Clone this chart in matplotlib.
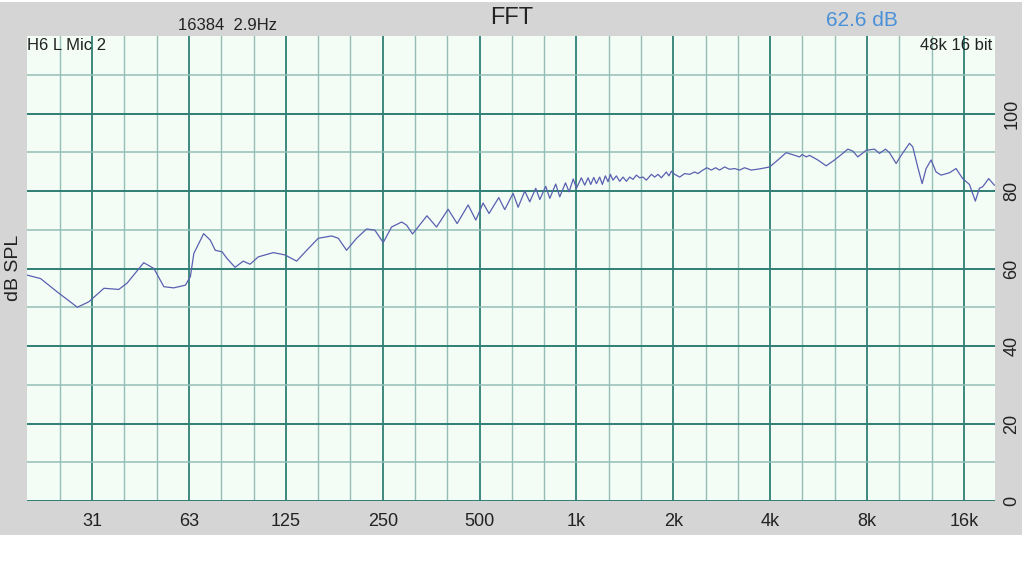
import numpy as np
import matplotlib.pyplot as plt
from matplotlib.patches import Rectangle

# FFT response (Hz, dB SPL)
freq_hz = [
    19.6, 21.6, 24.3, 28.1, 30.5, 34.0, 37.8, 40.1, 45.2, 48.6,
    52.2, 56.0, 60.9, 63.1, 64.7, 69.4, 72.8, 75.4, 79.2, 82.0,
    86.9, 92.1, 96.7, 102.6, 114.2, 124.2, 135.0, 145.1, 157.6, 173.4,
    181.9, 193.0, 207.3, 222.8, 236.3, 250.9, 266.3, 286.3, 296.5, 309.5,
    343.0, 367.5, 399.2, 425.8, 460.7, 486.7, 512.6, 535.0, 573.6, 598.6,
    635.5, 658.9, 691.1, 716.0, 747.4, 769.4, 802.8, 826.4, 862.1, 887.5,
    924.7, 948.7, 977.4, 1000, 1036, 1061, 1087, 1108, 1132, 1154,
    1181, 1204, 1230, 1254, 1275, 1299, 1331, 1363, 1396, 1430,
    1464, 1499, 1536, 1573, 1610, 1650, 1710, 1751, 1793, 1837,
    1903, 1939, 1973, 2020, 2094, 2170, 2249, 2330, 2386, 2473,
    2544, 2626, 2708, 2786, 2888, 2993, 3101, 3215, 3331, 3494,
    3709, 3984, 4228, 4489, 4764, 4937, 5033, 5180, 5303, 5628,
    5975, 6342, 6727, 6974, 7230, 7490, 7956, 8442, 8749, 9132,
    9396, 9856, 10216, 10843, 11101, 11504, 11873, 12217, 12661, 13120,
    13600, 14430, 15136, 15867, 16655, 17377, 17887, 18314, 19118, 19914,
]
level_db = [
    58.3, 57.4, 54.0, 50.0, 51.4, 54.9, 54.6, 56.2, 61.5, 60.0,
    55.3, 55.0, 55.7, 57.9, 63.9, 69.0, 67.3, 64.7, 64.3, 62.6,
    60.3, 61.9, 61.1, 63.0, 64.1, 63.5, 61.9, 64.7, 67.8, 68.4,
    67.8, 64.7, 67.8, 70.2, 69.9, 66.7, 70.7, 72.0, 71.2, 68.9,
    73.6, 70.7, 75.3, 71.6, 76.4, 72.5, 76.9, 74.2, 78.3, 75.2,
    79.4, 75.8, 80.0, 77.2, 80.7, 77.8, 81.2, 78.1, 81.8, 78.5,
    82.1, 79.8, 83.1, 80.7, 83.4, 81.5, 83.4, 81.7, 83.5, 81.9,
    83.6, 81.7, 83.9, 82.4, 84.3, 82.8, 83.9, 82.5, 83.6, 82.5,
    83.6, 83.0, 84.1, 83.4, 83.6, 82.8, 84.3, 83.6, 84.3, 83.4,
    84.9, 83.9, 85.1, 84.3, 83.6, 84.5, 84.3, 84.9, 84.5, 85.4,
    86.0, 85.4, 86.0, 85.4, 86.2, 85.6, 85.8, 85.4, 86.0, 85.4,
    85.7, 86.2, 88.0, 89.9, 89.2, 88.8, 89.4, 88.8, 89.2, 88.0,
    86.5, 88.0, 89.7, 90.8, 90.3, 88.8, 90.5, 90.8, 89.7, 90.8,
    89.9, 87.1, 89.2, 92.3, 91.4, 86.2, 81.9, 85.8, 88.0, 84.9,
    84.1, 84.7, 85.8, 83.2, 81.7, 77.4, 80.7, 81.1, 83.2, 81.5,
]

tick_hz = [31.25, 62.5, 125, 250, 500, 1000, 2000, 4000, 8000, 16000]
tick_labels = ["31", "63", "125", "250", "500", "1k", "2k", "4k", "8k", "16k"]
ytick_db = [0, 20, 40, 60, 80, 100]

font = "Liberation Sans"
dark = "#2f7f74"
light = "#93bfb7"
txt = "#222222"

fig = plt.figure(figsize=(10.24, 5.76), dpi=100, facecolor="white")
fig.patches.append(Rectangle((0, 41 / 576), 1022 / 1024, 533 / 576,
                             transform=fig.transFigure, facecolor="#d5d5d5",
                             edgecolor="none", zorder=-10))

ax = fig.add_axes([27 / 1024, 75 / 576, 968 / 1024, 465 / 576])
ax.set_facecolor("#f3fdf6")
ax.set_xscale("log")
ax.set_xlim(19.6, 20000)
ax.set_ylim(0, 120)

# third-octave verticals, octaves darker
for k in range(-16, 14):
    f = 1000 * 2 ** (k / 3)
    if 19.6 < f < 20000:
        ax.axvline(f, color=dark if k % 3 == 0 else light,
                   lw=1.3 if k % 3 == 0 else 1.0, zorder=1)
for d in range(0, 120, 10):
    ax.axhline(d, color=dark if d % 20 == 0 else light,
               lw=1.4 if d % 20 == 0 else 1.1, zorder=1)

ax.plot(freq_hz, level_db, color="#5a60b0", lw=0.9, zorder=3)

for s in ax.spines.values():
    s.set_visible(False)
ax.set_xticks(tick_hz)
ax.set_xticklabels(tick_labels, fontfamily=font, fontsize=13, color=txt)
ax.xaxis.set_minor_locator(plt.NullLocator())
ax.tick_params(axis="x", length=0, pad=9)
ax.yaxis.tick_right()
ax.set_yticks(ytick_db)
ax.set_yticklabels([str(v) for v in ytick_db], fontfamily=font, fontsize=13,
                   color=txt, rotation=90, va="center")
ax.tick_params(axis="y", length=0, pad=6)

fig.text(13 / 1024, 1 - 268 / 576, "dB SPL", rotation=90, ha="center", va="center",
         fontfamily=font, fontsize=14, color=txt)
fig.text(512 / 1024, 1 - 18 / 576, "FFT", ha="center", va="center",
         fontfamily=font, fontsize=17, color=txt)
fig.text(228 / 1024, 1 - 25 / 576, "16384  2.9Hz", ha="center", va="center",
         fontfamily=font, fontsize=12, color=txt)
fig.text(862 / 1024, 1 - 20 / 576, "62.6 dB", ha="center", va="center",
         fontfamily=font, fontsize=15, color="#4a90d9")
fig.text(27 / 1024, 1 - 45 / 576, "H6 L Mic 2", ha="left", va="center",
         fontfamily=font, fontsize=12, color=txt)
fig.text(992 / 1024, 1 - 45 / 576, "48k 16 bit", ha="right", va="center",
         fontfamily=font, fontsize=12, color=txt)

fig.savefig("out.png", dpi=100, facecolor=fig.get_facecolor())
